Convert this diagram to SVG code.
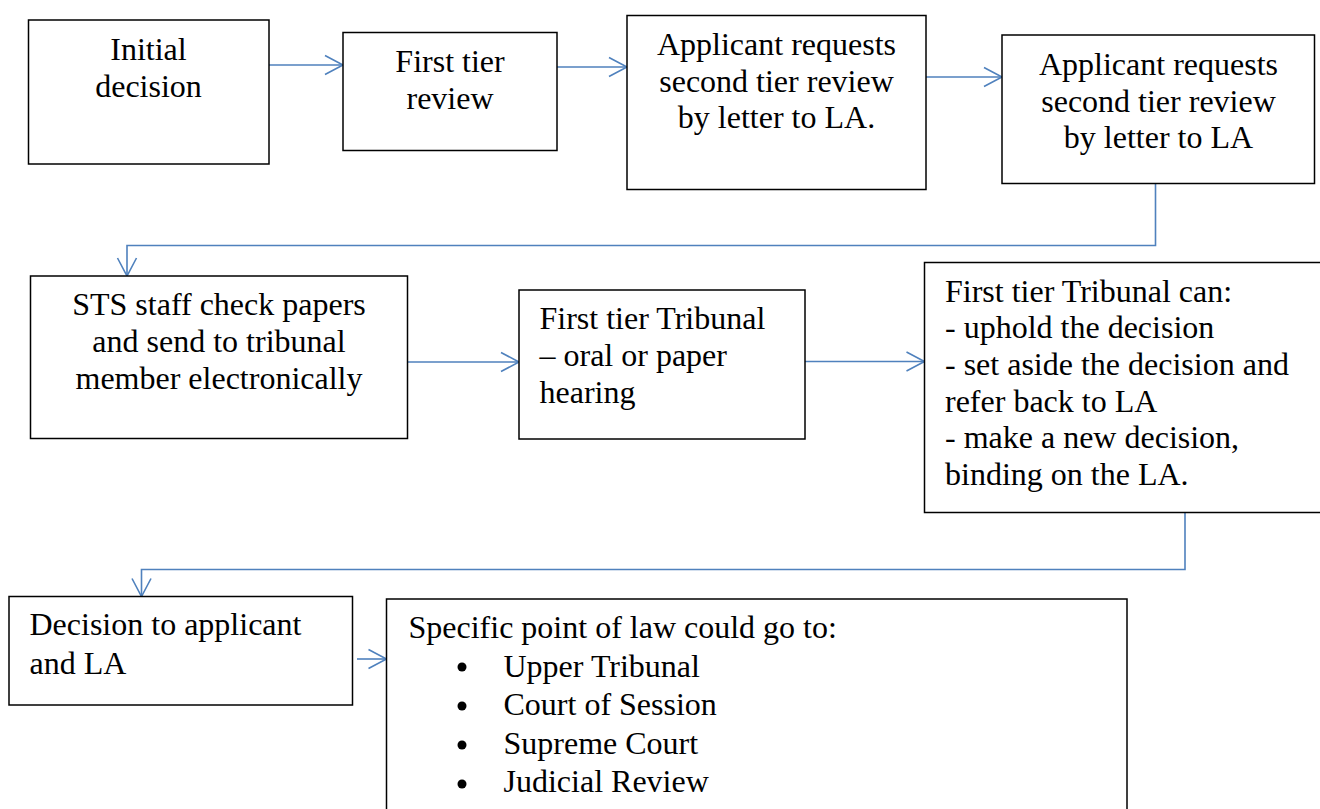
<svg xmlns="http://www.w3.org/2000/svg" width="1320" height="809" viewBox="0 0 1320 809">
<style>
.box{fill:#fff;stroke:#000;stroke-width:1.5}
.t{font-family:"Liberation Serif","Times New Roman",serif;font-size:32px;fill:#000}
.c{text-anchor:middle}
.con{fill:none;stroke:#4F81BD;stroke-width:1.6}
.bul{fill:#000}
</style>
<defs>
<marker id="arr" markerUnits="userSpaceOnUse" markerWidth="24" markerHeight="24" refX="19" refY="10" orient="auto" overflow="visible">
<path d="M1,0.5 L19,10 L1,19.5" fill="none" stroke="#4F81BD" stroke-width="1.6"/>
</marker>
</defs>
<rect width="1320" height="809" fill="#fff"/>
<g id="connectors">
<line class="con" x1="269" y1="65" x2="343" y2="65" marker-end="url(#arr)"/>
<line class="con" x1="557" y1="67" x2="627" y2="67" marker-end="url(#arr)"/>
<line class="con" x1="926" y1="77" x2="1002" y2="77" marker-end="url(#arr)"/>
<polyline class="con" points="1155.5,183 1155.5,245.5 127,245.5 127,276" marker-end="url(#arr)"/>
<line class="con" x1="407" y1="362" x2="519" y2="362" marker-end="url(#arr)"/>
<line class="con" x1="805" y1="361.5" x2="924.5" y2="361.5" marker-end="url(#arr)"/>
<polyline class="con" points="1185,513 1185,569.5 141.5,569.5 141.5,596.5" marker-end="url(#arr)"/>
<line class="con" x1="357" y1="659" x2="386.5" y2="659" marker-end="url(#arr)"/>
</g>
<g id="n1">
<rect class="box" x="28.5" y="20" width="240.5" height="144"/>
<text class="t c" x="148.5" y="60">Initial</text>
<text class="t c" x="148.5" y="96.5">decision</text>
</g>
<g id="n2">
<rect class="box" x="343" y="32.5" width="214" height="118"/>
<text class="t c" x="450" y="71.5">First tier</text>
<text class="t c" x="450" y="109">review</text>
</g>
<g id="n3">
<rect class="box" x="627" y="15.5" width="299" height="174"/>
<text class="t c" x="776.5" y="55">Applicant requests</text>
<text class="t c" x="776.5" y="91.5">second tier review</text>
<text class="t c" x="776.5" y="128">by letter to LA.</text>
</g>
<g id="n4">
<rect class="box" x="1002" y="35" width="312.5" height="148.5"/>
<text class="t c" x="1158.5" y="75">Applicant requests</text>
<text class="t c" x="1158.5" y="111.5">second tier review</text>
<text class="t c" x="1158.5" y="148">by letter to LA</text>
</g>
<g id="n5">
<rect class="box" x="30.5" y="276" width="377" height="162.5"/>
<text class="t c" x="219" y="315">STS staff check papers</text>
<text class="t c" x="219" y="351.5">and send to tribunal</text>
<text class="t c" x="219" y="389">member electronically</text>
</g>
<g id="n6">
<rect class="box" x="519" y="290" width="286" height="149"/>
<text class="t" x="539.5" y="328.5">First tier Tribunal</text>
<text class="t" x="539.5" y="365.5">– oral or paper</text>
<text class="t" x="539.5" y="402.5">hearing</text>
</g>
<g id="n7">
<rect class="box" x="924.5" y="262.5" width="410" height="250"/>
<text class="t" x="945" y="301.5">First tier Tribunal can:</text>
<text class="t" x="945" y="338">- uphold the decision</text>
<text class="t" x="945" y="375">- set aside the decision and</text>
<text class="t" x="945" y="411.5">refer back to LA</text>
<text class="t" x="945" y="448">- make a new decision,</text>
<text class="t" x="945" y="485">binding on the LA.</text>
</g>
<g id="n8">
<rect class="box" x="9" y="596.5" width="343.5" height="108.5"/>
<text class="t" x="29.5" y="635">Decision to applicant</text>
<text class="t" x="29.5" y="673.5">and LA</text>
</g>
<g id="n9">
<rect class="box" x="386.5" y="599" width="740.5" height="230"/>
<text class="t" x="408.5" y="638">Specific point of law could go to:</text>
<circle class="bul" cx="462" cy="667" r="4.5"/>
<circle class="bul" cx="462" cy="706" r="4.5"/>
<circle class="bul" cx="462" cy="745" r="4.5"/>
<circle class="bul" cx="462" cy="784" r="4.5"/>
<text class="t" x="503.5" y="676.5">Upper Tribunal</text>
<text class="t" x="503.5" y="715">Court of Session</text>
<text class="t" x="503.5" y="753.5">Supreme Court</text>
<text class="t" x="503.5" y="792">Judicial Review</text>
</g>
</svg>
